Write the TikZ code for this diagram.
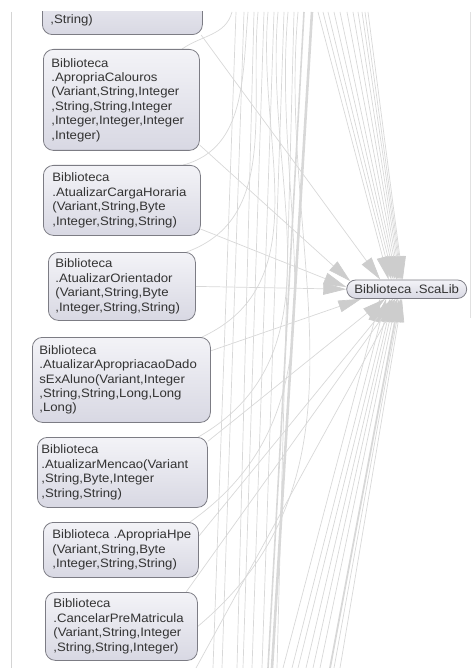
\documentclass[tikz,border=0pt]{standalone}
\usepackage{fontspec}
\newfontfamily\diagfont{Liberation Sans}[FakeStretch=1.08]
\usetikzlibrary{arrows.meta,shapes.misc}
\pgfdeclarelayer{edges}
\pgfsetlayers{edges,main}

\definecolor{boxtop}{HTML}{F3F3F7}
\definecolor{boxbottom}{HTML}{D8D8E3}
\definecolor{boxline}{HTML}{7C7C84}
\definecolor{labeltext}{HTML}{333333}
\definecolor{edgegray}{HTML}{D8D8D8}
\definecolor{headgray}{HTML}{CDCDCD}
\definecolor{framegray}{HTML}{D4D4D4}

\tikzset{
  classbox/.style={draw=boxline, line width=0.8pt, rounded corners=10pt,
    top color=boxtop, bottom color=boxbottom, text=labeltext,
    font=\diagfont\fontsize{12.2}{14.4}\selectfont, align=left,
    inner ysep=0pt, anchor=north west,
    execute at begin node={\hyphenpenalty=10000\exhyphenpenalty=10000}},
  libbox/.style={rounded rectangle, draw=boxline, line width=0.8pt,
    top color=boxtop, bottom color=boxbottom, text=labeltext,
    font=\diagfont\fontsize{12.2}{14.4}\selectfont,
    minimum width=120pt, minimum height=18.5pt, inner sep=0pt},
  dep/.style={draw=edgegray, line width=0.7pt},
  deparrow/.style={dep, -{Triangle[length=23pt,width=12pt,color=headgray]}},
  bundle/.style={dep, line width=2.6pt},
  frameline/.style={draw=framegray, line width=1pt}
}

\begin{document}
\begin{tikzpicture}[x=1pt,y=-1pt]
\useasboundingbox (0,0) rectangle (472,668);

% ---- class nodes ----
\begin{scope}
\clip (0,12) rectangle (472,668);
\node[classbox, anchor=south west, text width=144pt, inner xsep=8pt,
      text height=45pt, text depth=11.5pt] (topn) at (42,35) {,String)};
\node[classbox, text width=140pt, inner xsep=8pt, minimum height=101pt] (calouros) at (43,49)
  {Biblioteca\\.ApropriaCalouros\\(Variant,String,Integer\\,String,String,Integer\\,Integer,Integer,Integer\\,Integer)};
\node[classbox, text width=139pt, inner xsep=9pt, minimum height=70pt] (carga) at (43,165)
  {Biblioteca\\.AtualizarCargaHoraria\\(Variant,String,Byte\\,Integer,String,String)};
\node[classbox, text width=133pt, inner xsep=7pt, minimum height=68pt] (orient) at (48,252)
  {Biblioteca\\.AtualizarOrientador\\(Variant,String,Byte\\,Integer,String,String)};
\node[classbox, text width=164pt, inner xsep=7pt, minimum height=85pt] (dados) at (32,337)
  {Biblioteca\\.AtualizarApropriacaoDado\\sExAluno(Variant,Integer\\,String,String,Long,Long\\,Long)};
\node[classbox, text width=162pt, inner xsep=4pt, minimum height=70pt] (mencao) at (37,437)
  {Biblioteca\\.AtualizarMencao(Variant\\,String,Byte,Integer\\,String,String)};
\node[classbox, text width=137pt, inner xsep=9pt, minimum height=55pt] (hpe) at (43,522)
  {\mbox{Biblioteca .ApropriaHpe}\\(Variant,String,Byte\\,Integer,String,String)};
\node[classbox, text width=136pt, inner xsep=8pt, minimum height=68pt] (cancel) at (45,592)
  {Biblioteca\\.CancelarPreMatricula\\(Variant,String,Integer\\,String,String,Integer)};
\node[libbox] (scalib) at (406.7,289.2) {Biblioteca .ScaLib};
\end{scope}

% ---- dependency edges ----
\begin{pgfonlayer}{edges}
\begin{scope}
\clip (0,12) rectangle (472,668);

% edges that run past the view, from above to below
\foreach \a/\b [count=\i] in {236/213, 244/222, 254/237, 264/243, 274/252, 284/262, 294/277}{
  \coordinate (passtop\i) at (\a,12);
  \coordinate (passbot\i) at (\b,668);
  \draw[dep] (passtop\i) -- (passbot\i);
}
\coordinate (bundletopa) at (304,12);
\coordinate (bundlebota) at (268,668);
\coordinate (bundletopb) at (312,12);
\coordinate (bundlebotb) at (272,668);
\draw[dep, line width=1.6pt] (bundletopa) -- (bundlebota);
\draw[bundle] (bundletopb) -- (bundlebotb);

% calls arriving at ScaLib from above the view
\foreach \x/\ang [count=\i] in {318/152, 323/148, 328/144, 334/140, 340/136, 347/132,
                                353/128, 358/124, 362/120, 365/116, 368/112}{
  \coordinate (srcup\i) at (\x,12);
  \draw[deparrow] (srcup\i) -- (scalib.\ang);
}

% calls arriving at ScaLib from below the view
\foreach \x/\ang [count=\i] in {283/200, 292/205, 298/210, 306/214, 313/218, 320/224,
                                334/238, 340/244}{
  \coordinate (srcdown\i) at (\x,668);
  \draw[deparrow] (srcdown\i) -- (scalib.\ang);
}
\coordinate (srcdownthick) at (330,668);
\draw[deparrow, line width=1.8pt] (srcdownthick) -- (scalib.232);
\coordinate (srcleft) at (196,668);
\draw[deparrow] (srcleft) -- (scalib.228);

% calls from the listed methods into ScaLib
\draw[deparrow] (topn.-20)     -- (scalib.160);
\draw[deparrow] (calouros.-30) -- (scalib.172);
\draw[deparrow] (carga.-20)    -- (scalib.178);
\draw[deparrow] (orient.east)  -- (scalib.west);
\draw[deparrow] (dados.18)     -- (scalib.192);
\draw[deparrow] (mencao.20)    -- (scalib.204);
\draw[deparrow] (hpe.10)       -- (scalib.215);
\draw[deparrow] (cancel.28)    -- (scalib.221);

% calls from the listed methods to classes above the view
\coordinate (upa) at (232,12);
\coordinate (upb) at (248,12);
\coordinate (upc) at (258,12);
\coordinate (upd) at (268,12);
\coordinate (upe) at (278,12);
\coordinate (upf) at (288,12);
\coordinate (upg) at (298,12);
\draw[dep] (calouros.40) to[out=35, in=-105] (upa);
\draw[dep] (carga.30)    to[out=15, in=-95]  (upb);
\draw[dep] (orient.28)   to[out=20, in=-95]  (upc);
\draw[dep] (dados.28)    to[out=25, in=-95]  (upd);
\draw[dep] (mencao.25)   to[out=30, in=-95]  (upe);
\draw[dep] (hpe.22)      to[out=35, in=-95]  (upf);
\draw[dep] (cancel.east) to[out=40, in=-95]  (upg);
\end{scope}
\end{pgfonlayer}

% ---- group frames ----
\draw[frameline] (11.5,12) -- (11.5,668);
\draw[frameline, draw=framegray!70] (470,12) -- (470,318);
\end{tikzpicture}
\end{document}
